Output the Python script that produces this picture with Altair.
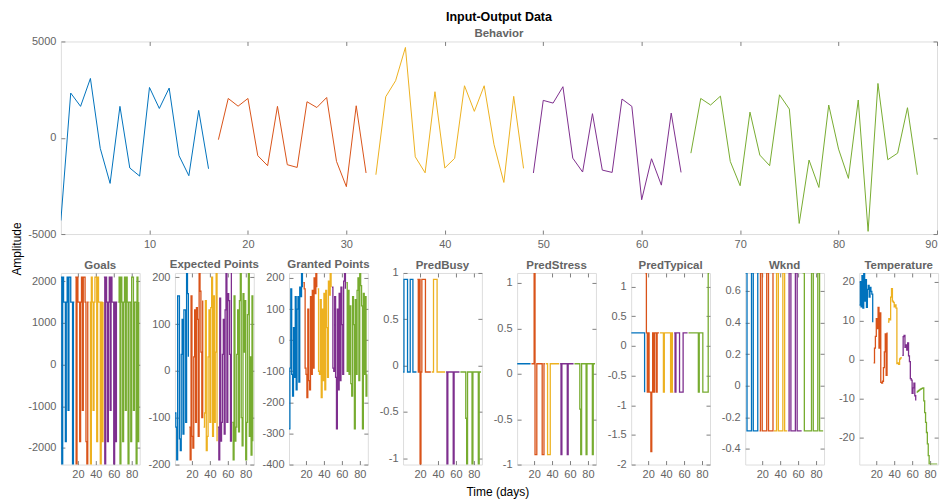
import altair as alt
import pandas as pd

COLORS = ["#0072BD", "#D95319", "#EDB120", "#7E2F8E", "#77AC30"]
EXPS = ["Exp1", "Exp2", "Exp3", "Exp4", "Exp5"]
EXP_START = [1, 17, 33, 49, 65]

behavior = [
    [-4300, 2320, 1630, 3080, -550, -2370, 1630, -1570, -1990, 2610, 1520, 2580, -930, -1970, 1420, -1610],
    [-100, 2040, 1640, 2040, -930, -1450, 1630, -1400, -1540, 1870, 1570, 2090, -1230, -2540, 1660, -1830],
    [-1920, 2130, 2960, 4690, -990, -1820, 2390, -1570, -1070, 2700, 1370, 2700, -360, -2320, 2150, -1590],
    [-1830, 1940, 1800, 2650, -1060, -1780, 1250, -1680, -1800, 2010, 1630, -3220, -1090, -2460, 1280, -1800],
    [-800, 2040, 1700, 2160, -1230, -2490, 1330, -900, -1450, 2230, 1490, -4450, -1160, -2580, 1700, -590,
     -2110, 1960, -4860, 2820, -1140, -800, 1560, -1920],
]

goals = [
    [2100, -2400, 2100, 1500, 1500, -1850, 1500, 2100, -1100, 2100, 2100, 1500, 1500, -2400, 1500, 1500],
    [2100, -2400, 2100, 1500, 1500, -1850, 1500, 2100, -1100, 2100, 2100, 1500, -1850, -2400, 1500, 1500],
    [1500, -2400, 2100, 1500, -1100, 1500, 2100, 2100, -1850, 2100, 1500, 1500, -2400, 1500, -1850, 1500],
    [2100, -2400, 2100, 1500, -1850, 1500, 2100, -1100, 2100, 1500, 1500, -2400, 1500, -1850, 1500, 1500],
    [1500, 2100, -2400, 2100, 1500, -1850, 1500, 2100, -1100, 2100, 1500, -2400, 1500, 1500, -1850, 2100,
     2100, -1100, 1500, 1500, -2400, 2100, -1850, 1500],
]

expected_points = [
    [-90, -120, -190, 160, 160, -145, -170, 35, 110, -135, 130, 130, -110, 210, 165, 30],
    [-120, -190, 160, -140, -165, 30, 130, -110, 135, 110, -140, 210, 170, 40, -100, 150],
    [-120, -90, 150, -170, -140, 30, 130, -110, 135, 200, -140, 160, -110, 40, 210, -150],
    [-120, -190, 155, -150, -110, 35, 110, -135, 130, 210, -110, 165, 150, 35, -150, 210],
    [-110, -190, 160, -150, -120, 35, 130, -130, 150, 210, -100, -160, 165, 40, 150, -190,
     -110, 120, 210, -140, 30, -180, 160, -150],
]

granted_points = [
    [-285, -90, 165, -110, -180, 40, -120, 140, -160, 100, 140, -135, 170, 140, 215, 170],
    [185, 165, -90, -110, -185, 100, -130, -160, 140, -110, 160, -90, 200, 150, 215, 170],
    [165, -100, -110, 130, -185, 100, -130, 150, -160, 160, 40, -120, 190, 145, 215, 170],
    [170, -90, -100, 140, -120, -285, 100, -160, 150, -130, 170, 50, -110, 190, 215, 165],
    [185, -100, 160, -110, 110, -140, -180, 140, 50, -285, 130, -110, 160, 200, -130, 215,
     175, 110, -285, 150, -110, 140, -180, -110],
]

pred_busy = [
    [-0.07, 0.93, 0.93, 0.93, 0.93, -0.07, -0.07, -0.07, 0.93, 0.93, 0.93, -0.07, -0.07, -0.07, -0.07, -0.07],
    [0.93, -0.07, 0.93, -1.07, -0.07, 0.93, 0.93, 0.93, 0.93, -0.07, -0.07, -0.07, -0.07, -0.07, -0.07, -0.07],
    [-0.07, -0.07, 0.93, 0.93, 0.93, 0.93, -0.07, -0.07, -0.07, -0.07, -0.07, -0.07, -0.07, -0.07, -0.07, -0.07],
    [-0.07, -1.07, -0.07, -0.07, -0.07, -0.07, -0.07, -0.07, -1.07, -0.07, -0.07, -0.07, -0.07, -0.07, -0.07, -0.07],
    [-0.07, -0.07, -0.07, -0.07, -0.07, -0.07, -0.57, -1.07, -0.07, -0.07, -0.07, -0.07, -0.07, -1.07, -0.07, -0.07,
     -0.07, -0.07, -0.07, -0.07, -1.07, -0.07, -0.07, -0.07],
]

pred_stress = [
    [0.11, 0.11, 0.11, 0.11, 0.11, 0.11, 0.11, 0.11, 0.11, 0.11, 0.11, 0.11, 0.11, 0.11, 0.11, 0.11],
    [0.11, 0.11, 0.11, 1.11, -0.89, -0.89, 0.11, 0.11, 0.11, 0.11, 0.11, 0.11, -0.89, -0.89, 0.11, 0.11],
    [0.11, 0.11, -0.89, -0.89, -0.89, 0.11, 0.11, 0.11, 0.11, 0.11, 0.11, 0.11, 0.11, 0.11, 0.11, 0.11],
    [0.11, -0.89, 0.11, 0.11, 0.11, 0.11, 0.11, 0.11, -0.89, 0.11, 0.11, 0.11, 0.11, 0.11, 0.11, 0.11],
    [0.11, 0.11, 0.11, 0.11, 0.11, 0.11, -0.39, -0.89, 0.11, 0.11, 0.11, 0.11, 0.11, -0.89, 0.11, 0.11,
     0.11, 0.11, 0.11, 0.11, -0.89, 0.11, 0.11, 0.11],
]

pred_typical = [
    [0.22, 0.22, 0.22, 0.22, 0.22, 0.22, 0.22, 0.22, 0.22, 0.22, 0.22, 0.22, 0.22, 0.22, 0.22, -0.78],
    [1.22, 0.22, -0.78, 0.22, -0.78, -0.78, -1.78, -0.78, 0.22, -0.78, 0.22, 0.22, -0.78, 0.22, 0.22, 0.22],
    [0.22, 0.22, 0.22, 0.22, -0.78, 0.22, 0.22, 0.22, 0.22, 0.22, 0.22, 0.22, -0.78, 0.22, -0.78, -0.78],
    [0.22, -0.78, 0.22, 0.22, 0.22, 0.22, -0.78, -0.78, -0.78, -0.78, 0.22, 0.22, 0.22, 0.22, 0.22, 0.22],
    [0.22, 0.22, 0.22, 0.22, 0.22, 0.22, 0.22, 0.22, 0.22, 0.22, 0.22, -0.78, 0.22, 0.22, 0.22, 0.22,
     -0.78, -0.78, -0.78, -0.78, -0.78, -0.78, 1.22, 1.22],
]

wknd = [
    [0.714, 0.714, -0.286, -0.286, -0.286, -0.286, -0.286, 0.714, 0.714, -0.286, -0.286, -0.286, -0.286, -0.286, 0.714, 0.714],
    [-0.286, 0.714, 0.714, -0.286, -0.286, -0.286, -0.286, -0.286, 0.714, 0.714, -0.286, -0.286, -0.286, -0.286, -0.286, 0.714],
    [-0.286, -0.286, -0.286, 0.714, 0.714, -0.286, -0.286, -0.286, -0.286, -0.286, 0.714, 0.714, -0.286, -0.286, -0.286, -0.286],
    [-0.286, 0.714, 0.714, -0.286, -0.286, -0.286, -0.286, -0.286, 0.714, 0.714, -0.286, -0.286, -0.286, -0.286, -0.286, -0.286],
    [0.714, 0.714, -0.286, -0.286, -0.286, -0.286, -0.286, -0.286, -0.286, -0.286, 0.714, 0.714, -0.286, -0.286, -0.286, -0.286,
     -0.286, 0.714, 0.714, -0.286, -0.286, -0.286, -0.286, -0.286],
]

temperature = [
    [14, 20, 13.5, 21.5, 13.2, 22, 15, 20.5, 13.4, 18, 19, 16, 18.5, 17.5, 16.8, 9.6],
    [-0.8, 3, 6, 10.5, 8, 13.4, 3, 12, -5.8, -6, -5.5, -2, 2, 6.6, -4, 7],
    [9.6, 10.5, 10.2, 16, 18.2, 15, 14.7, 13.5, 14, 13.2, -1, -0.8, -1.2, 0.2, 0.5, 0.3],
    [1.1, 5.9, 6.2, 3.2, 3.8, 2.5, 4.3, 1.0, -0.5, -4.8, -5.2, -8.6, -7.2, -6.0, -9.2, -10.4],
    [-8.3, -8.1, -7.9, -7.7, -7.6, -7.4, -7.3, -7.2, -10.5, -13.5, -16, -18.6, -21.5, -24.5, -26.7, -26.7,
     -26.7, -26.7, -26.7, -26.7, -26.7, -26.7, -26.7, -26.7],
]

# name, series, y-domain, y-ticks, title offset
INPUTS = [
    ("Goals", goals, [-2400, 2200], [-2000, -1000, 0, 1000, 2000], 1),
    ("Expected Points", expected_points, [-200, 209], [-200, -100, 0, 100, 200], 1),
    ("Granted Points", granted_points, [-400, 216], [-400, -300, -200, -100, 0, 100, 200], 1),
    ("PredBusy", pred_busy, [-1.07, 1.0], [-1, -0.5, 0, 0.5, 1], -5),
    ("PredStress", pred_stress, [-1.0, 1.11], [-1, -0.5, 0, 0.5, 1], 1),
    ("PredTypical", pred_typical, [-2.0, 1.23], [-2, -1.5, -1, -0.5, 0, 0.5, 1], 1),
    ("Wknd", wknd, [-0.5, 0.714], [-0.4, -0.2, 0, 0.2, 0.4, 0.6], 1),
    ("Temperature", temperature, [-26.8, 22.2], [-20, -10, 0, 10, 20], 1),
]

FONT = "Liberation Sans"
LABEL = "#646464"
FRAME = "#7f7f7f"


def to_frame(series):
    rows = []
    for i, vals in enumerate(series):
        for k, v in enumerate(vals):
            rows.append({"day": EXP_START[i] + k, "value": v, "exp": EXPS[i]})
    return pd.DataFrame(rows)


def panel(df, xdom, xticks, ydom, yticks, w, h, step, stroke_w, extra=None):
    xs = alt.Scale(domain=xdom, nice=False, zero=False)
    ys = alt.Scale(domain=ydom, nice=False, zero=False)
    base = alt.Chart(df)
    lab = dict(labelFont=FONT, labelFontSize=11, labelColor=LABEL, grid=False,
               domain=False, tickSize=0, title=None, labelExpr="'' + datum.value")
    line = base.mark_line(
        interpolate="step-after" if step else "linear", strokeWidth=stroke_w, clip=True
    ).encode(
        x=alt.X("day:Q", scale=xs, axis=alt.Axis(values=xticks, orient="bottom", labelPadding=4, **lab)),
        y=alt.Y("value:Q", scale=ys, axis=alt.Axis(values=yticks, orient="left", labelPadding=5, **lab)),
        color=alt.Color("exp:N", scale=alt.Scale(domain=EXPS, range=COLORS), legend=None),
        detail="exp:N",
    )
    tk = dict(labels=False, title=None, grid=False, domain=False, tickSize=4, offset=-4,
              tickColor=FRAME, tickWidth=1)
    ticks_tr = base.mark_line(strokeOpacity=0).encode(
        x=alt.X("day:Q", scale=xs, axis=alt.Axis(values=xticks, orient="top", **tk)),
        y=alt.Y("value:Q", scale=ys, axis=alt.Axis(values=yticks, orient="right", **tk)),
        detail="exp:N",
    )
    ticks_bl = base.mark_line(strokeOpacity=0).encode(
        x=alt.X("day:Q", scale=xs, axis=alt.Axis(values=xticks, orient="bottom", **tk)),
        y=alt.Y("value:Q", scale=ys, axis=alt.Axis(values=yticks, orient="left", **tk)),
        detail="exp:N",
    )
    layers = [line, ticks_tr, ticks_bl]
    if extra is not None:
        layers.extend(extra)
    return alt.layer(*layers).resolve_axis(x="independent", y="independent").properties(width=w, height=h)


# top panel
TOP_W, TOP_H = 878, 193
amp = alt.Chart(pd.DataFrame({"t": ["Amplitude"]})).mark_text(
    angle=270, font=FONT, fontSize=12, color="#000000", align="center", baseline="middle"
).encode(text="t:N", x=alt.value(-44), y=alt.value(208))

top = panel(to_frame(behavior), [1, 90], [10, 20, 30, 40, 50, 60, 70, 80, 90],
            [-5000, 5000], [-5000, 0, 5000], TOP_W, TOP_H, False, 1.0, extra=[amp]).properties(
    title=alt.TitleParams(
        text="Input-Output Data", subtitle="Behavior", font=FONT, fontSize=12.5, fontWeight="bold",
        color="#000000", subtitleFont=FONT, subtitleFontSize=11.5, subtitleFontWeight="bold",
        subtitleColor=LABEL, subtitlePadding=4, offset=-4, anchor="middle",
    )
)

PW, PH = 79, 192
bottom_panels = []
for name, series, ydom, yticks, toff in INPUTS:
    extra = None
    if name == "PredBusy":
        extra = [alt.Chart(pd.DataFrame({"t": ["Time (days)"]})).mark_text(
            font=FONT, fontSize=12, color="#000000", align="center", baseline="middle"
        ).encode(text="t:N", x=alt.value(95), y=alt.value(220))]
    p = panel(to_frame(series), [1, 89], [20, 40, 60, 80], ydom, yticks, PW, PH, True, 1.3, extra=extra)
    p = p.properties(title=alt.TitleParams(text=name, font=FONT, fontSize=11.5, fontWeight="bold",
                                           color=LABEL, offset=toff, anchor="middle"))
    bottom_panels.append(p)

bottom = alt.hconcat(*bottom_panels, spacing=35.3, bounds="flush")

chart = alt.vconcat(top, bottom, spacing=39, bounds="flush").properties(
    padding={"left": 2, "top": 2, "right": 0, "bottom": 0}
).configure_view(stroke=FRAME, strokeWidth=1).configure(background="#ffffff")

chart.save("out.html", embed_options={"renderer": "svg", "actions": False})
